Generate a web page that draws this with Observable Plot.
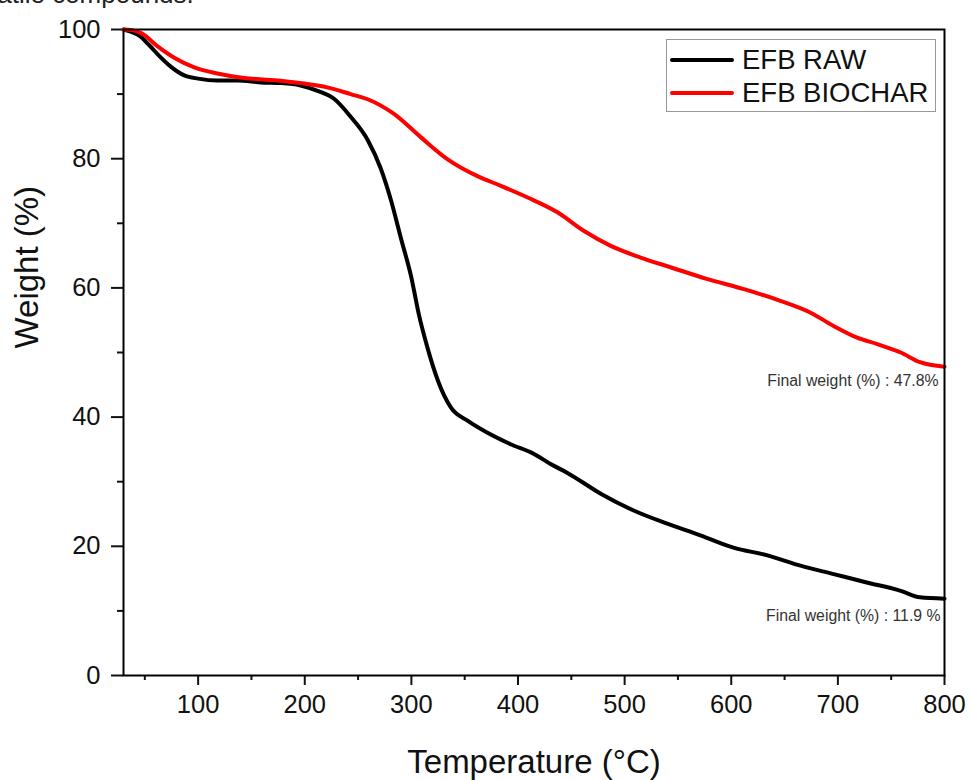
<!DOCTYPE html>
<html>
<head>
<meta charset="utf-8">
<script src="https://cdn.jsdelivr.net/npm/d3@7"></script>
<script src="https://cdn.jsdelivr.net/npm/@observablehq/plot@0.6"></script>
<style>
  html, body { margin: 0; padding: 0; background: #fff; overflow: hidden; }
  #wrap { position: relative; width: 971px; height: 780px; font-family: "Liberation Sans", Arial, sans-serif; }
  #cut { position: absolute; left: -36px; top: -19px; font-size: 26px; line-height: 26px; color: #222; white-space: nowrap; }
  #legend { position: absolute; left: 666px; top: 39px; width: 268px; height: 71px; border: 1px solid #999; background: #fff; }
  .sw { position: absolute; left: 3px; width: 64px; height: 4px; border-radius: 2px; }
  .lt { position: absolute; left: 75px; font-size: 27.5px; line-height: 28px; color: #111; white-space: nowrap; }
</style>
</head>
<body>
<div id="wrap">
  <div id="chart"></div>
  <div id="cut">volatile compounds.</div>
  <div id="legend"></div>
</div>
<script>
// ---- data ----
const seriesNames = ["EFB RAW", "EFB BIOCHAR"];
const seriesColors = ["#000000", "#ff0000"];

const rawTemp   = [30, 36, 45, 54, 63, 74, 87, 100, 118, 137, 159, 178, 197, 212, 228, 243, 259, 271, 281, 290, 300, 307, 315, 325, 337, 353, 371, 393, 415, 431, 446, 478, 509, 540, 571, 602, 634, 665, 696, 727, 759, 777, 800];
const rawWeight = [100, 99.7, 99.0, 97.6, 96.0, 94.3, 92.9, 92.4, 92.1, 92.1, 91.8, 91.7, 91.3, 90.5, 89.2, 86.5, 82.9, 78.6, 73.5, 67.8, 61.6, 55.9, 50.8, 45.6, 41.5, 39.4, 37.6, 35.8, 34.3, 32.7, 31.4, 28.1, 25.5, 23.5, 21.7, 19.8, 18.6, 17.0, 15.7, 14.4, 13.1, 12.1, 11.9];

const charTemp   = [30, 38, 47, 62, 78, 97, 118, 143, 168, 197, 222, 243, 259, 284, 309, 334, 362, 384, 409, 437, 462, 487, 515, 543, 577, 612, 646, 674, 696, 718, 737, 759, 777, 800];
const charWeight = [100, 99.9, 99.4, 97.4, 95.6, 94.1, 93.2, 92.5, 92.2, 91.7, 91.0, 90.0, 89.2, 86.9, 83.3, 79.9, 77.3, 75.8, 74.0, 71.7, 68.8, 66.5, 64.7, 63.2, 61.4, 59.8, 58.0, 56.2, 54.1, 52.3, 51.3, 50.0, 48.5, 47.8];

const finalLabels = ["Final weight (%) : 11.9 %", "Final weight (%) : 47.8%"];

const xMajorTicks = [100, 200, 300, 400, 500, 600, 700, 800];
const xMinorTicks = [50, 150, 250, 350, 450, 550, 650, 750];
const yMajorTicks = [0, 20, 40, 60, 80, 100];
const yMinorTicks = [10, 30, 50, 70, 90];

const xTitle = "Temperature (°C)";
const yTitle = "Weight (%)";

// ---- tables ----
const raw = rawTemp.map((t, i) => ({T: t, W: rawWeight[i]}));
const biochar = charTemp.map((t, i) => ({T: t, W: charWeight[i]}));
const rawFinal = [{T: rawTemp[rawTemp.length - 1], W: rawWeight[rawWeight.length - 1], label: finalLabels[0]}];
const charFinal = [{T: charTemp[charTemp.length - 1], W: charWeight[charWeight.length - 1], label: finalLabels[1]}];

const font = "'Liberation Sans', Arial, sans-serif";

const chart = Plot.plot({
  width: 971,
  height: 780,
  marginLeft: 123,
  marginRight: 27,
  marginTop: 29,
  marginBottom: 105,
  x: {domain: [30, 800]},
  y: {domain: [0, 100]},
  style: {fontFamily: font, background: "#fff", color: "#111"},
  marks: [
    Plot.axisX({ticks: xMinorTicks, tickSize: 5, tickFormat: () => "", strokeWidth: 2, label: null}),
    Plot.axisX({ticks: xMajorTicks, tickSize: 10, tickPadding: 9, fontSize: 25.5, strokeWidth: 2, label: null}),
    Plot.axisY({ticks: yMinorTicks, tickSize: 6, tickFormat: () => "", strokeWidth: 2, label: null}),
    Plot.axisY({ticks: yMajorTicks, tickSize: 12, tickPadding: 11, fontSize: 25.5, strokeWidth: 2, label: null}),
    Plot.line(raw, {x: "T", y: "W", stroke: seriesColors[0], strokeWidth: 4, curve: "monotone-x"}),
    Plot.line(biochar, {x: "T", y: "W", stroke: seriesColors[1], strokeWidth: 4, curve: "monotone-x"}),
    Plot.frame({stroke: "#000", strokeWidth: 2}),
    Plot.text(rawFinal, {x: "T", y: "W", text: "label", textAnchor: "end", dx: -4, dy: 17, fontSize: 15.8, fill: "#333"}),
    Plot.text(charFinal, {x: "T", y: "W", text: "label", textAnchor: "end", dx: -6, dy: 14, fontSize: 15.8, fill: "#333"}),
    Plot.text([xTitle], {frameAnchor: "bottom", lineAnchor: "bottom", dy: 97, fontSize: 33, fill: "#111"}),
    Plot.text([yTitle], {frameAnchor: "left", rotate: -90, dx: -96, dy: -4, fontSize: 33, fill: "#111"})
  ]
});
document.getElementById("chart").appendChild(chart);

// ---- legend ----
const legend = document.getElementById("legend");
seriesNames.forEach((name, i) => {
  const cy = 20 + i * 33;
  const sw = document.createElement("div");
  sw.className = "sw";
  sw.style.top = (cy - 2) + "px";
  sw.style.background = seriesColors[i];
  legend.appendChild(sw);
  const t = document.createElement("div");
  t.className = "lt";
  t.style.top = (cy - 14) + "px";
  t.textContent = name;
  legend.appendChild(t);
});
</script>
</body>
</html>
